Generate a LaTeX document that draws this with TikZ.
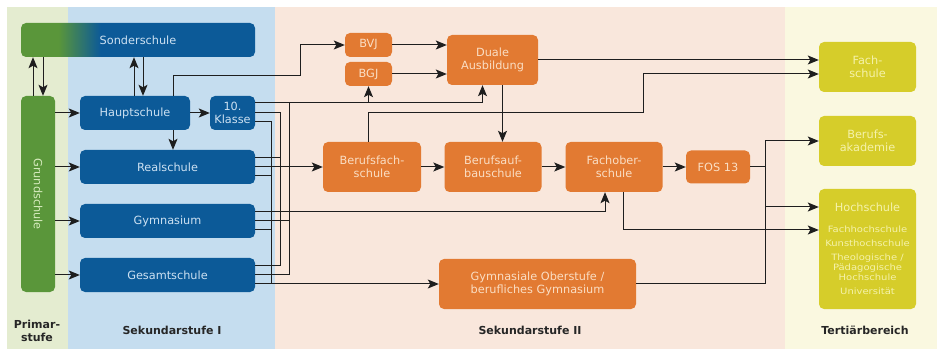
\documentclass[tikz,border=0pt]{standalone}
\usepackage{fontspec}
\setmainfont{DejaVu Sans}
\newfontfamily\kleinfont[FakeStretch=1.15]{DejaVu Sans}
\usetikzlibrary{arrows.meta}

\definecolor{bandprim}{RGB}{228,236,208}
\definecolor{bandsekI}{RGB}{197,221,239}
\definecolor{bandsekII}{RGB}{249,231,220}
\definecolor{bandtert}{RGB}{250,248,224}
\definecolor{primgruen}{RGB}{90,150,58}
\definecolor{sekblau}{RGB}{12,90,152}
\definecolor{sekorange}{RGB}{226,122,50}
\definecolor{tertgelb}{RGB}{214,205,42}
\definecolor{gruentext}{RGB}{215,235,190}
\definecolor{blautext}{RGB}{205,225,242}
\definecolor{orangetext}{RGB}{250,222,196}
\definecolor{gelbtext}{RGB}{245,242,170}
\definecolor{linie}{RGB}{30,30,30}

\pgfdeclarehorizontalshading{sonder}{100bp}{color(0bp)=(primgruen); color(33bp)=(primgruen); color(42bp)=(sekblau); color(100bp)=(sekblau)}

\tikzset{
  schulbox/.style={rounded corners=5pt, align=center, inner sep=0pt},
  blaubox/.style={schulbox, fill=sekblau, text=blautext},
  orangebox/.style={schulbox, fill=sekorange, text=orangetext},
  gelbbox/.style={schulbox, fill=tertgelb, text=gelbtext},
  stufe/.style={font=\fontsize{11}{13}\selectfont\bfseries, text=black!85, align=center},
  linie/.style={draw=linie, line width=1pt},
  pfeil/.style={linie, -{Stealth[length=11pt,width=9pt,inset=2.5pt]}},
}

\begin{document}
\begin{tikzpicture}[x=1pt, y=-1pt, font=\fontsize{11.3}{13.5}\selectfont]

 \useasboundingbox (0,0) rectangle (941,352);

 %bands
 \fill[bandprim]  (7,7) rectangle (68,349);
 \fill[bandsekI]  (68,7) rectangle (275,349);
 \fill[bandsekII] (275,7) rectangle (785,349);
 \fill[bandtert]  (785,7) rectangle (937,349);

 \node[stufe] (lprim) at (37,331) {Primar-\\stufe};
 \node[stufe] (lsekI) at (172,330) {Sekundarstufe I};
 \node[stufe] (lsekII) at (530,330) {Sekundarstufe II};
 \node[stufe] (ltert) at (865,330) {Tertiärbereich};

 %level 1
 \node[schulbox, shading=sonder, text=blautext, minimum width=234, minimum height=34] (sonder) at (138,40) {Sonderschule};
 \node[schulbox, fill=primgruen, text=gruentext, minimum width=34, minimum height=196] (grund) at (38,194) {\rotatebox{-90}{Grundschule}};

 \node[blaubox, minimum width=110, minimum height=34] (haupt) at (135,113) {Hauptschule};
 \node[blaubox, minimum width=45, minimum height=34] (klasse) at (232.5,113) {10.\\Klasse};
 \node[blaubox, minimum width=175, minimum height=34] (real) at (167.5,167) {Realschule};
 \node[blaubox, minimum width=175, minimum height=34] (gym) at (167.5,221) {Gymnasium};
 \node[blaubox, minimum width=175, minimum height=34] (gesamt) at (167.5,275) {Gesamtschule};

 %level 2
 \node[orangebox, minimum width=47, minimum height=24] (bvj) at (368.5,45) {BVJ};
 \node[orangebox, minimum width=47, minimum height=24] (bgj) at (368.5,74) {BGJ};
 \node[orangebox, minimum width=91, minimum height=50] (duale) at (492.5,60) {Duale\\Ausbildung};
 \node[orangebox, minimum width=98, minimum height=50] (bfs) at (372,167) {Berufsfach-\\schule};
 \node[orangebox, minimum width=97, minimum height=50] (bas) at (493,167) {Berufsauf-\\bauschule};
 \node[orangebox, minimum width=97, minimum height=50] (fos) at (614,167) {Fachober-\\schule};
 \node[orangebox, minimum width=64, minimum height=33] (fos13) at (718,167) {FOS 13};
 \node[orangebox, minimum width=197, minimum height=50] (gymo) at (537.5,284) {Gymnasiale Oberstufe /\\berufliches Gymnasium};

 %level 3
 \node[gelbbox, minimum width=97, minimum height=50] (fachschule) at (867.5,67) {Fach-\\schule};
 \node[gelbbox, minimum width=97, minimum height=50] (ba) at (867.5,141) {Berufs-\\akademie};
 \node[gelbbox, minimum width=97, minimum height=120] (hoch) at (867.5,249) {};
 \node[text=gelbtext] (hochtitel) at (867.5,207) {Hochschule};
 \node[text=gelbtext, align=center, font=\kleinfont\fontsize{8.7}{10}\selectfont] (hochliste) at (867.5,260)
   {Fachhochschule\\[4pt]Kunsthochschule\\[4pt]Theologische /\\Pädagogische\\Hochschule\\[4pt]Universität};

 %help points
 \coordinate (busA) at (271,0);
 \coordinate (busB) at (280,0);
 \coordinate (busC) at (289,0);
 \coordinate (busT) at (765,0);
 \coordinate (hk) at (300,76);
 \coordinate (bk) at (643,113);

 \coordinate (k1) at ([yshift=10pt]klasse.east);
 \coordinate (k2) at (klasse.east);
 \coordinate (k3) at ([yshift=-9pt]klasse.east);
 \coordinate (r1) at ([yshift=9pt]real.east);
 \coordinate (r2) at (real.east);
 \coordinate (r3) at ([yshift=-9pt]real.east);
 \coordinate (g1) at ([yshift=9pt]gym.east);
 \coordinate (g2) at (gym.east);
 \coordinate (g3) at ([yshift=-9pt]gym.east);
 \coordinate (s1) at ([yshift=9pt]gesamt.east);
 \coordinate (s2) at (gesamt.east);
 \coordinate (s3) at ([yshift=-9pt]gesamt.east);
 \coordinate (h1) at ([yshift=42pt]hoch.west);
 \coordinate (h2) at ([yshift=19pt]hoch.west);

 %arrow Grundschule
 \draw[pfeil] ([xshift=-5pt]grund.north) -- ([xshift=-5pt]grund.north |- sonder.south);
 \draw[pfeil] ([xshift=5pt]grund.north |- sonder.south) -- ([xshift=5pt]grund.north);
 \foreach \ziel in {haupt, real, gym, gesamt} {
   \draw[pfeil] (grund.east |- \ziel.west) -- (\ziel.west);
 }

 %arrow Hauptschule
 \draw[pfeil] ([xshift=-1pt]haupt.north) -- ([xshift=-1pt]haupt.north |- sonder.south);
 \draw[pfeil] ([xshift=8pt]haupt.north |- sonder.south) -- ([xshift=8pt]haupt.north);
 \draw[pfeil] (haupt.east) -- (klasse.west);
 \draw[pfeil] ([xshift=38pt]haupt.south) -- ([xshift=38pt]haupt.south |- real.north);
 \draw[pfeil] ([xshift=38pt]haupt.north) |- (hk) |- (bvj.west);

 %bus
 \draw[linie] (k3) -| (busA |- s3);
 \draw[linie] (r3) -- (busA |- r3);
 \draw[linie] (g3) -- (busA |- g3);
 \draw[pfeil] (s3) -- (s3 -| gymo.west);

 \draw[linie] (k2) -| (busB |- s1) -- (s1);
 \draw[linie] (r1) -- (busB |- r1);

 \draw[linie] (busC |- k1) -- (busC |- s2) -- (s2);
 \draw[linie] (g2) -- (busC |- g2);
 \draw[pfeil] (k1) -| ([xshift=-10pt]duale.south);
 \draw[pfeil] (bgj.south |- k1) -- (bgj.south);

 \draw[pfeil] (r2) -- (bfs.west);
 \draw[pfeil] (g1) -| ([xshift=-9pt]fos.south);

 %arrow Sekundarstufe II
 \draw[pfeil] (bvj.east) -- (bvj.east -| duale.west);
 \draw[pfeil] (bgj.east) -- (bgj.east -| duale.west);
 \draw[pfeil] ([xshift=10pt]duale.south) -- ([xshift=10pt]duale.south |- bas.north);
 \draw[pfeil] (duale.east) -- (duale.east -| fachschule.west);
 \draw[pfeil] ([xshift=-4pt]bfs.north) |- (bk) |- ([yshift=-7pt]fachschule.west);
 \draw[pfeil] (bfs.east) -- (bas.west);
 \draw[pfeil] (bas.east) -- (fos.west);
 \draw[pfeil] (fos.east) -- (fos13.west);
 \draw[pfeil] ([xshift=9pt]fos.south) |- (h2);

 %arrow Tertiaerbereich
 \draw[linie] (fos13.east) -- (busT |- fos13.east);
 \draw[linie] (gymo.east) -- (busT |- gymo.east);
 \draw[linie] (busT |- ba.west) -- (busT |- gymo.east);
 \draw[pfeil] (busT |- ba.west) -- (ba.west);
 \draw[pfeil] (busT |- h1) -- (h1);

\end{tikzpicture}
\end{document}
